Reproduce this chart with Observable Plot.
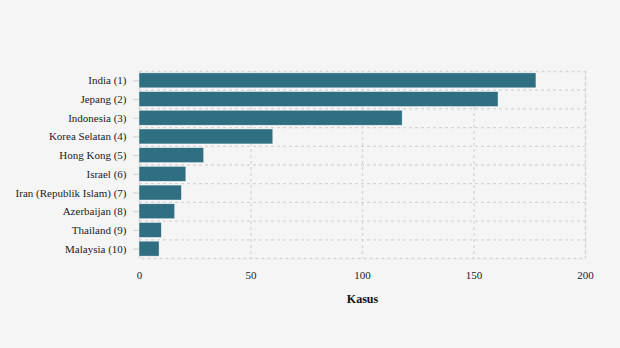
<!DOCTYPE html>
<html>
<head>
<meta charset="utf-8">
<script src="https://cdn.jsdelivr.net/npm/d3@7"></script>
<script src="https://cdn.jsdelivr.net/npm/@observablehq/plot@0.6"></script>
<style>
  html, body { margin: 0; padding: 0; background: #f5f5f5; }
  #chart { width: 620px; height: 348px; }
  #chart svg, #chart svg text { font-family: "Liberation Serif", "DejaVu Serif", serif !important; }
</style>
</head>
<body>
<div id="chart"></div>
<script>
const categories = ["India (1)", "Jepang (2)", "Indonesia (3)", "Korea Selatan (4)", "Hong Kong (5)", "Israel (6)", "Iran (Republik Islam) (7)", "Azerbaijan (8)", "Thailand (9)", "Malaysia (10)"];
const values = [178, 161, 118, 60, 29, 21, 19, 16, 10, 9];
const xTicks = [0, 50, 100, 150, 200];
const xLabel = "Kasus";

const data = categories.map((c, i) => ({country: c, value: values[i]}));

const W = 620, H = 348, mT = 71, mB = 90, mL = 139, mR = 35;
const step = (H - mT - mB) / categories.length;
const gridStyle = {stroke: "#d6d6d6", strokeWidth: 1.3, strokeDasharray: "3,3"};

const chart = Plot.plot({
  width: W,
  height: H,
  marginTop: mT,
  marginBottom: mB,
  marginLeft: mL,
  marginRight: mR,
  style: {background: "#f5f5f5", fontSize: "11px", color: "#222"},
  x: {domain: [0, 200], ticks: xTicks},
  y: {domain: categories, paddingInner: 0.2, paddingOuter: 0.1, round: false},
  marks: [
    Plot.ruleX(xTicks, {x: d => d, ...gridStyle}),
    Plot.ruleY(categories.slice(0, -1), {y: d => d, dy: step / 2, ...gridStyle}),
    Plot.frame({...gridStyle}),
    Plot.barX(data, {y: "country", x: "value", fill: "#306f82", stroke: "#ffffff", strokeWidth: 0.6, strokeOpacity: 0.7}),
    Plot.axisY({tickSize: 6, tickPadding: 7, stroke: "#cfcfcf", label: null, fontSize: 11, fill: "#222"}),
    Plot.axisX({ticks: xTicks, tickSize: 0, tickPadding: 13, label: null, fontSize: 11, fill: "#222"}),
    Plot.text([xLabel], {frameAnchor: "bottom", dy: 44, text: d => d, fontWeight: "bold", fontSize: 12, fill: "#111"})
  ]
});
document.getElementById("chart").appendChild(chart);
</script>
</body>
</html>
